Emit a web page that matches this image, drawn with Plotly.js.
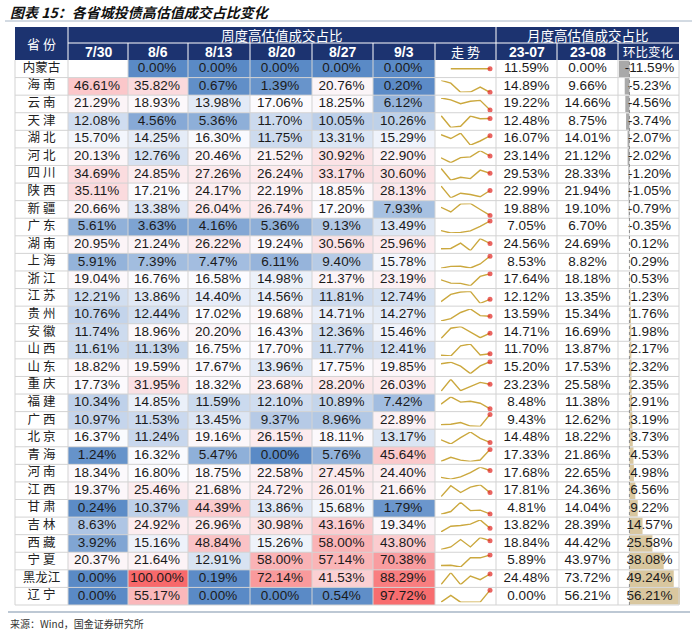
<!DOCTYPE html>
<html>
<head>
<meta charset="utf-8">
<script src="https://cdn.plot.ly/plotly-3.0.1.min.js"></script>
<style>html,body{margin:0;padding:0;background:#fff;}#chart{width:700px;height:633px;}</style>
</head>
<body>
<div id="chart"></div>
<script>
// ---------------- DATA ----------------
const TITLE = '图表 15：各省城投债高估值成交占比变化';
const SOURCE = '来源：Wind，国金证券研究所';
const PROVINCES = ['内蒙古','海南','云南','天津','湖北','河北','四川','陕西','新疆','广东','湖南','上海','浙江','江苏','贵州','安徽','山西','山东','重庆','福建','广西','北京','青海','河南','江西','甘肃','吉林','西藏','宁夏','黑龙江','辽宁'];
const WEEKS = ['7/30','8/6','8/13','8/20','8/27','9/3'];
const MONTHS = ['23-07','23-08'];
const W0730 = [null,46.61,21.29,12.08,15.70,20.13,34.69,35.11,20.66,5.61,20.95,5.91,19.04,12.21,10.76,11.74,11.61,18.82,17.73,10.34,10.97,16.37,1.24,18.34,19.37,0.24,8.63,3.92,20.37,0.00,0.00];
const W0806 = [0.00,35.82,18.93,4.56,14.25,12.76,24.85,17.21,13.38,3.63,21.24,7.39,16.76,13.86,12.44,18.96,11.13,19.59,31.95,14.85,11.53,11.24,16.32,16.80,25.46,10.37,24.92,15.16,21.64,100.00,55.17];
const W0813 = [0.00,0.67,13.98,5.36,16.30,20.46,27.26,24.17,26.04,4.16,26.22,7.47,16.58,14.40,17.02,20.20,16.75,17.67,18.32,11.59,13.45,19.16,5.47,18.75,21.68,44.39,26.96,48.84,12.91,0.19,0.00];
const W0820 = [0.00,1.39,17.06,11.70,11.75,21.52,26.24,22.19,26.74,5.36,19.24,6.11,14.98,14.56,19.68,16.43,17.70,13.96,23.68,12.10,9.37,26.15,0.00,22.58,24.72,13.86,30.98,15.26,58.00,72.14,0.00];
const W0827 = [0.00,20.76,18.25,10.05,13.31,30.92,33.17,18.85,17.20,9.13,30.56,9.40,21.37,11.81,14.71,12.36,11.77,17.75,28.20,10.89,8.96,18.11,5.76,27.45,26.01,15.68,43.16,58.00,57.14,41.53,0.54];
const W0903 = [0.00,0.20,6.12,10.26,15.29,22.90,30.60,28.13,7.93,13.49,25.96,15.78,23.19,12.74,14.27,15.46,12.41,19.85,26.03,7.42,22.89,13.17,45.64,24.40,21.66,1.79,19.34,43.80,70.38,88.29,97.72];
const M2307 = [11.59,14.89,19.22,12.48,16.07,23.14,29.53,22.99,19.88,7.05,24.56,8.53,17.64,12.12,13.59,14.71,11.70,15.20,23.23,8.48,9.43,14.48,17.33,17.68,17.81,4.81,13.82,18.84,5.89,24.48,0.00];
const M2308 = [0.00,9.66,14.66,8.75,14.01,21.12,28.33,21.94,19.10,6.70,24.69,8.82,18.18,13.35,15.34,16.69,13.87,17.53,25.58,11.38,12.62,18.22,21.86,22.65,24.36,14.04,28.39,44.42,43.97,73.72,56.21];
const CHANGE = [-11.59,-5.23,-4.56,-3.74,-2.07,-2.02,-1.20,-1.05,-0.79,-0.35,0.12,0.29,0.53,1.23,1.76,1.98,2.17,2.32,2.35,2.91,3.19,3.73,4.53,4.98,6.56,9.22,14.57,25.58,38.08,49.24,56.21];
const WEEK_SERIES = [W0730, W0806, W0813, W0820, W0827, W0903];
const MONTH_SERIES = [M2307, M2308];

// ---------------- LAYOUT GEOMETRY ----------------
const W = 700, H = 633;
const EDGES = [15, 68, 128, 188, 250, 312, 373, 435, 496, 557, 618, 679];
const HEAD_TOP = 27, HEAD_MID = 43, BODY_TOP = 60, BODY_BOT = 605;
const N = PROVINCES.length;
const RH = (BODY_BOT - BODY_TOP) / N;
const px = p => p / W;
const py = p => 1 - p / H;
const NUMFONT = 'Liberation Sans, Arial, sans-serif';
const CJK = 'Noto Sans CJK SC, sans-serif';
const NAVY = '#1C3370';
const GRID = '#D3D3D3';

const fmt = v => (v === null || v === undefined) ? '' : v.toFixed(2) + '%';
const spaced = s => s.length === 2 ? s[0] + ' ' + s[1] : s;

// median for 3-colour scale midpoint
const allWeek = [].concat(...WEEK_SERIES).filter(v => v !== null).sort((a, b) => a - b);
const med = allWeek.length % 2 ? allWeek[(allWeek.length - 1) / 2] : (allWeek[allWeek.length / 2 - 1] + allWeek[allWeek.length / 2]) / 2;

const traces = [];

// heatmap of weekly values
traces.push({
  type: 'heatmap',
  x: EDGES.slice(1, 8),
  y: PROVINCES,
  z: PROVINCES.map((_, i) => WEEK_SERIES.map(s => s[i])),
  zmin: 0, zmax: 100,
  colorscale: [[0, '#5A8AC6'], [med / 100, '#FCFCFF'], [1, '#F8696B']],
  showscale: false, hoverinfo: 'skip', xaxis: 'x', yaxis: 'y'
});

const center = j => (EDGES[j] + EDGES[j + 1]) / 2;

// province names
traces.push({
  type: 'scatter', mode: 'text', x: PROVINCES.map(() => center(0)), y: PROVINCES,
  text: PROVINCES.map(spaced), textposition: 'middle center',
  textfont: {family: CJK, size: 12.5, color: '#222'}, hoverinfo: 'skip', xaxis: 'x', yaxis: 'y', cliponaxis: false
});
// weekly text
WEEK_SERIES.forEach((s, j) => {
  traces.push({
    type: 'scatter', mode: 'text', x: PROVINCES.map(() => center(j + 1) - 1), y: PROVINCES,
    text: s.map(fmt), textposition: 'middle center',
    textfont: {family: NUMFONT, size: 13.5, color: '#1a1a1a'}, hoverinfo: 'skip', xaxis: 'x', yaxis: 'y', cliponaxis: false
  });
});
// monthly text
MONTH_SERIES.forEach((s, j) => {
  traces.push({
    type: 'scatter', mode: 'text', x: PROVINCES.map(() => center(j + 8)), y: PROVINCES,
    text: s.map(fmt), textposition: 'middle center',
    textfont: {family: NUMFONT, size: 13.5, color: '#1a1a1a'}, hoverinfo: 'skip', xaxis: 'x', yaxis: 'y', cliponaxis: false
  });
});

// data bars for change
const cmin = Math.min(...CHANGE), cmax = Math.max(...CHANGE);
traces.push({
  type: 'bar', orientation: 'h', x: CHANGE, y: PROVINCES, width: 0.94,
  marker: {color: CHANGE.map(v => v < 0 ? '#A9A9A9' : '#D9C79F'), line: {width: 0}},
  hoverinfo: 'skip', xaxis: 'x3', yaxis: 'y'
});
traces.push({
  type: 'scatter', mode: 'text', x: PROVINCES.map(() => 0.5), y: PROVINCES,
  text: CHANGE.map(fmt), textposition: 'middle center',
  textfont: {family: NUMFONT, size: 13.5, color: '#1a1a1a'}, hoverinfo: 'skip', xaxis: 'x4', yaxis: 'y', cliponaxis: false
});

const layout = {
  width: W, height: H,
  margin: {l: 0, r: 0, t: 0, b: 0, pad: 0},
  paper_bgcolor: '#ffffff', plot_bgcolor: 'rgba(0,0,0,0)',
  showlegend: false, hovermode: false,
  xaxis: {domain: [px(EDGES[0]), px(EDGES[11])], range: [EDGES[0], EDGES[11]], visible: false, fixedrange: true},
  yaxis: {domain: [py(BODY_BOT), py(BODY_TOP)], type: 'category', categoryorder: 'array', categoryarray: PROVINCES, range: [N - 0.5, -0.5], visible: false, fixedrange: true},
  xaxis2: {domain: [px(441), px(490)], type: 'category', categoryorder: 'array', categoryarray: WEEKS, range: [0, 5], visible: false, anchor: 'free', position: 0, fixedrange: true},
  xaxis3: {domain: [px(619), px(680)], range: [cmin, cmax], visible: false, anchor: 'y', fixedrange: true},
  xaxis4: {overlaying: 'x3', range: [0, 1], visible: false, anchor: 'y', fixedrange: true},
  shapes: [], annotations: []
};

// sparklines, one small y axis per row
PROVINCES.forEach((p, i) => {
  const vals = WEEK_SERIES.map(s => s[i]);
  const nn = vals.filter(v => v !== null);
  let lo = Math.min(...nn), hi = Math.max(...nn);
  if (hi - lo < 1e-9) { lo -= 1; hi += 1; }
  const key = 'yaxis' + (i + 2);
  layout[key] = {
    domain: [py(BODY_TOP + (i + 1) * RH - 2.8), py(BODY_TOP + i * RH + 2.8)],
    range: [lo, hi], visible: false, anchor: 'x2', fixedrange: true
  };
  traces.push({
    type: 'scatter', mode: 'lines+markers', x: WEEKS, y: vals,
    line: {color: '#CBA83E', width: 1.4},
    marker: {size: vals.map((v, k) => k === vals.length - 1 ? 5 : 0), color: '#E0241F', line: {width: 0}},
    cliponaxis: false, hoverinfo: 'skip', xaxis: 'x2', yaxis: 'y' + (i + 2)
  });
});

const S = layout.shapes, A = layout.annotations;
// header background
S.push({type: 'rect', xref: 'paper', yref: 'paper', x0: px(EDGES[0]), x1: px(EDGES[11]), y0: py(BODY_TOP), y1: py(HEAD_TOP), fillcolor: NAVY, line: {width: 0}, layer: 'above'});
// header white separators
S.push({type: 'line', xref: 'paper', yref: 'paper', x0: px(EDGES[1]), x1: px(EDGES[11]), y0: py(HEAD_MID), y1: py(HEAD_MID), line: {color: '#ffffff', width: 1}, layer: 'above'});
[1, 8].forEach(j => S.push({type: 'line', xref: 'paper', yref: 'paper', x0: px(EDGES[j]), x1: px(EDGES[j]), y0: py(BODY_TOP), y1: py(HEAD_TOP), line: {color: '#ffffff', width: 1}, layer: 'above'}));
for (let j = 2; j <= 10; j++) if (j !== 8) S.push({type: 'line', xref: 'paper', yref: 'paper', x0: px(EDGES[j]), x1: px(EDGES[j]), y0: py(BODY_TOP), y1: py(HEAD_MID), line: {color: '#ffffff', width: 1}, layer: 'above'});
// body grid
for (let i = 1; i <= N; i++) {
  const yy = BODY_TOP + i * RH;
  S.push({type: 'line', xref: 'paper', yref: 'paper', x0: px(EDGES[0]), x1: px(EDGES[11]), y0: py(yy), y1: py(yy), line: {color: GRID, width: 1}, layer: 'above'});
}
EDGES.forEach(e => S.push({type: 'line', xref: 'paper', yref: 'paper', x0: px(e), x1: px(e), y0: py(BODY_BOT), y1: py(BODY_TOP), line: {color: GRID, width: 1}, layer: 'above'}));
// data bar axis (dashed)
S.push({type: 'line', xref: 'x3', yref: 'paper', x0: 0, x1: 0, y0: py(BODY_BOT), y1: py(BODY_TOP), line: {color: '#8C8C8C', width: 1, dash: 'dot'}, layer: 'above'});
// title & footer rules
S.push({type: 'line', xref: 'paper', yref: 'paper', x0: px(5), x1: px(692), y0: py(21), y1: py(21), line: {color: '#A7B6C6', width: 1}});
S.push({type: 'line', xref: 'paper', yref: 'paper', x0: px(8), x1: px(690), y0: py(612), y1: py(612), line: {color: '#A7B6C6', width: 1.5}});

// header texts
const hdr = (text, x, y, font) => A.push({text, x: px(x), y: py(y), xref: 'paper', yref: 'paper', showarrow: false, xanchor: 'center', yanchor: 'middle', font});
hdr('省 份', center(0), (HEAD_TOP + BODY_TOP) / 2, {family: CJK, size: 13, color: '#fff'});
hdr('周度高估值成交占比', (EDGES[1] + EDGES[8]) / 2, (HEAD_TOP + HEAD_MID) / 2, {family: CJK, size: 13.5, color: '#fff'});
hdr('月度高估值成交占比', (EDGES[8] + EDGES[11]) / 2, (HEAD_TOP + HEAD_MID) / 2, {family: CJK, size: 13.5, color: '#fff'});
WEEKS.forEach((w, j) => hdr(w, center(j + 1), (HEAD_MID + BODY_TOP) / 2 + 0.5, {family: NUMFONT, size: 14, color: '#fff', weight: 'bold'}));
hdr('走 势', center(7), (HEAD_MID + BODY_TOP) / 2, {family: CJK, size: 13, color: '#fff'});
MONTHS.forEach((m, j) => hdr(m, center(j + 8), (HEAD_MID + BODY_TOP) / 2 + 0.5, {family: NUMFONT, size: 14, color: '#fff', weight: 'bold'}));
hdr('环比变化', center(10), (HEAD_MID + BODY_TOP) / 2, {family: CJK, size: 12.5, color: '#fff'});

// title & source
A.push({text: TITLE, x: px(8), y: py(12), xref: 'paper', yref: 'paper', showarrow: false, xanchor: 'left', yanchor: 'middle', font: {family: CJK, size: 14, color: '#111', weight: 'bold', style: 'italic'}});
A.push({text: SOURCE, x: px(8), y: py(623), xref: 'paper', yref: 'paper', showarrow: false, xanchor: 'left', yanchor: 'middle', font: {family: CJK, size: 10, color: '#333'}});

Plotly.newPlot('chart', traces, layout, {displayModeBar: false, staticPlot: true});
</script>
</body>
</html>
